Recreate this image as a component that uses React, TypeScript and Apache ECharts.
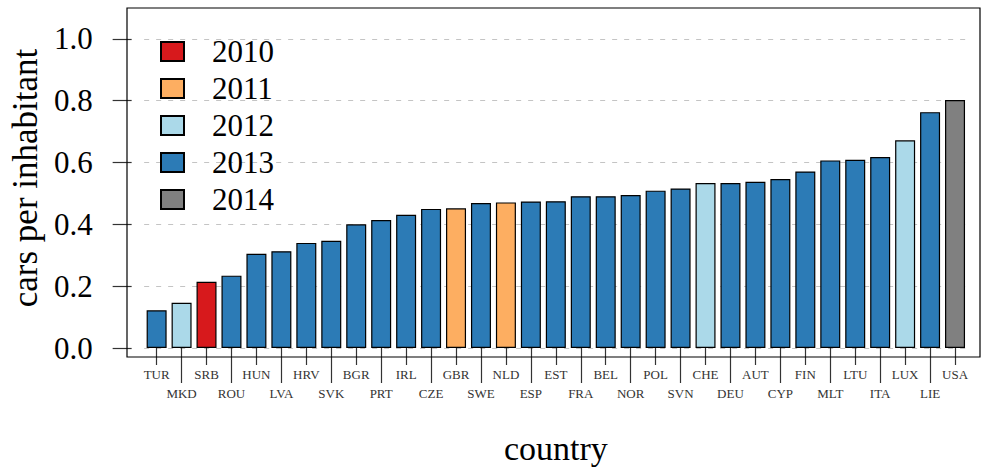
import React, { useEffect, useRef } from "react";
import * as echarts from "echarts";

const countries = [
  "TUR", "MKD", "SRB", "ROU", "HUN", "LVA", "HRV", "SVK", "BGR", "PRT", "IRL",
  "CZE", "GBR", "SWE", "NLD", "ESP", "EST", "FRA", "BEL", "NOR", "POL", "SVN",
  "CHE", "DEU", "AUT", "CYP", "FIN", "MLT", "LTU", "ITA", "LUX", "LIE", "USA",
];
const carsPerInhabitant = [
  0.122, 0.146, 0.214, 0.234, 0.305, 0.313, 0.340, 0.347, 0.400, 0.414, 0.431,
  0.450, 0.452, 0.469, 0.471, 0.474, 0.475, 0.491, 0.491, 0.495, 0.509, 0.516,
  0.534, 0.534, 0.538, 0.547, 0.571, 0.607, 0.609, 0.618, 0.672, 0.763, 0.802,
];
const dataYear = [
  "2013", "2012", "2010", "2013", "2013", "2013", "2013", "2013", "2013", "2013", "2013",
  "2013", "2011", "2013", "2011", "2013", "2013", "2013", "2013", "2013", "2013", "2013",
  "2012", "2013", "2013", "2013", "2013", "2013", "2013", "2013", "2012", "2013", "2014",
];
const years = ["2010", "2011", "2012", "2013", "2014"];
const yearColors = ["#d7191c", "#fdae61", "#abd9e9", "#2c7bb6", "#808080"];
const yTicks = [0, 0.2, 0.4, 0.6, 0.8, 1.0];

const FONT = "'Liberation Serif', 'Times New Roman', serif";

export default function App() {
  const ref = useRef<HTMLDivElement>(null);

  useEffect(() => {
    if (!ref.current) return;
    const chart = echarts.init(ref.current, null, { renderer: "svg" });

    const series = years.map((y, k) => ({
      name: y,
      type: "bar",
      stack: "all",
      barWidth: 20,
      data: carsPerInhabitant.map((v, i) => (dataYear[i] === y ? v : "-")),
      itemStyle: { color: yearColors[k], borderColor: "#000", borderWidth: 1.2 },
      xAxisIndex: 0,
      yAxisIndex: 0,
    }));

    const baseX = {
      type: "category",
      data: countries,
      gridIndex: 0,
      position: "bottom",
      offset: 0,
      axisLine: { show: false },
      splitLine: { show: false },
    };

    chart.setOption({
      animation: false,
      grid: [
        { left: 139.5, right: 13.5, top: 8, bottom: 113, containLabel: false },
        {
          left: 127, right: 1, top: 8, bottom: 113, containLabel: false,
          show: true, borderColor: "#000", borderWidth: 1.2, backgroundColor: "transparent", z: 10,
        },
      ],
      legend: {
        orient: "vertical",
        left: 155,
        top: 31,
        itemWidth: 23,
        itemHeight: 19,
        itemGap: 6,
        icon: "rect",
        data: years,
        textStyle: {
          fontFamily: FONT,
          fontSize: 31,
          color: "#000",
          padding: [0, 0, 0, 23],
        },
      },
      xAxis: [
        {
          ...baseX,
          name: "country",
          nameLocation: "middle",
          nameGap: 83,
          nameTextStyle: { fontFamily: FONT, fontSize: 34, color: "#000" },
          axisTick: {
            show: true,
            alignWithLabel: true,
            length: 17,
            interval: (i: number) => i % 2 === 0,
            lineStyle: { color: "#333", width: 1.2 },
          },
          axisLabel: {
            interval: (i: number) => i % 2 === 0,
            margin: 20,
            fontFamily: FONT,
            fontSize: 13,
            color: "#333",
          },
        },
        {
          ...baseX,
          axisTick: {
            show: true,
            alignWithLabel: true,
            length: 35,
            interval: (i: number) => i % 2 === 1,
            lineStyle: { color: "#333", width: 1.2 },
          },
          axisLabel: {
            interval: (i: number) => i % 2 === 1,
            margin: 39,
            fontFamily: FONT,
            fontSize: 13,
            color: "#333",
          },
        },
        { type: "value", gridIndex: 1, show: false, min: 0, max: 1 },
      ],
      yAxis: [
        {
          type: "value",
          gridIndex: 0,
          min: 0,
          max: 1.1,
          offset: 12.5,
          name: "cars per inhabitant",
          nameLocation: "middle",
          nameGap: 88,
          nameRotate: 90,
          nameTextStyle: { fontFamily: FONT, fontSize: 35, color: "#000" },
          axisLine: { show: false },
          axisTick: {
            show: true,
            length: 19,
            customValues: yTicks,
            lineStyle: { color: "#333", width: 1.2 },
          },
          axisLabel: {
            customValues: yTicks,
            margin: 39,
            fontFamily: FONT,
            fontSize: 31,
            color: "#000",
            formatter: (v: number) => v.toFixed(1),
          },
          splitLine: {
            show: true,
            lineStyle: { color: "#c4c4c4", type: [5, 7], width: 1.2 },
          },
        },
        { type: "value", gridIndex: 1, show: false, min: 0, max: 1 },
      ],
      series,
    });

    return () => chart.dispose();
  }, []);

  return (
    <div
      ref={ref}
      style={{ position: "absolute", left: 0, top: 0, width: 981, height: 470 }}
    />
  );
}
